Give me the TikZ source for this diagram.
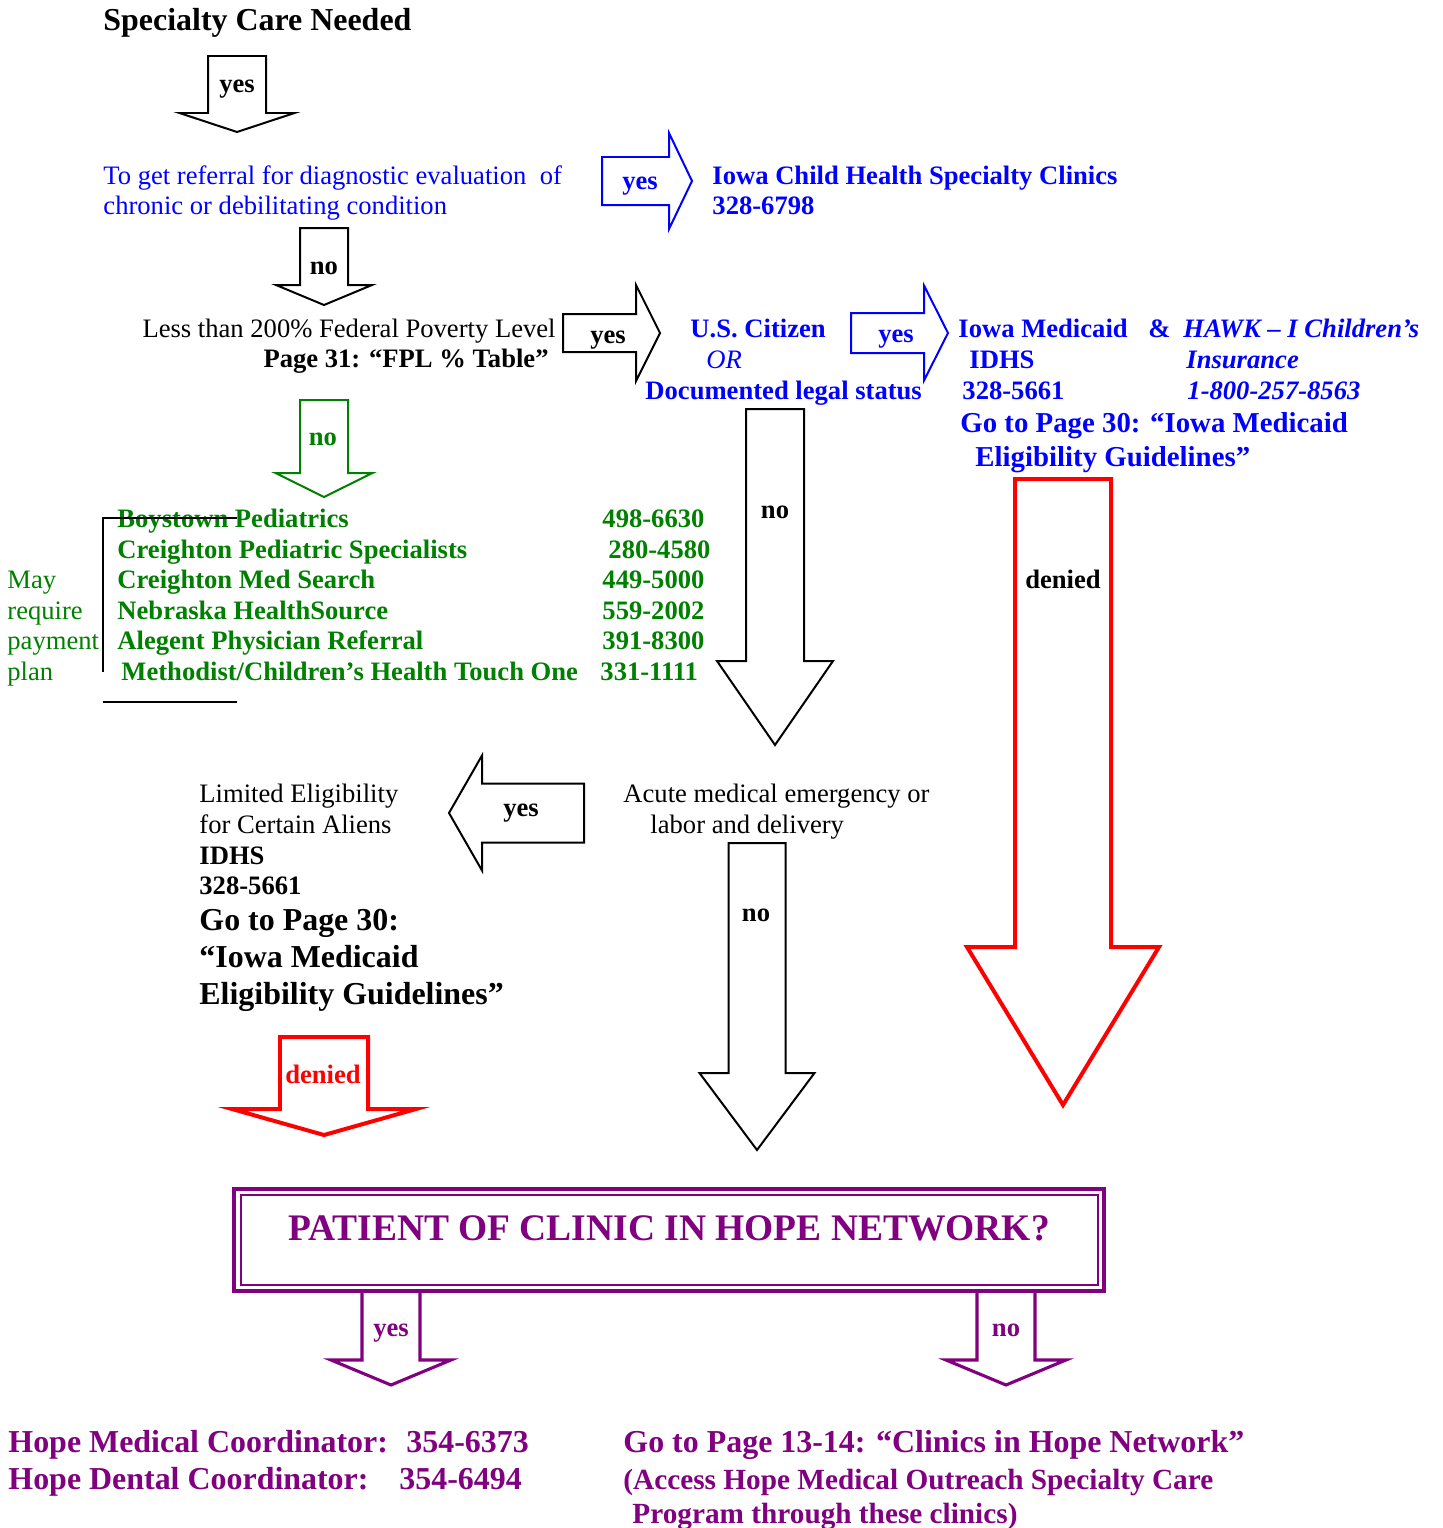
\documentclass[tikz,border=0pt]{standalone}
\usepackage{fontspec}
\setmainfont{Liberation Serif}
\usepackage{tikz}
\usetikzlibrary{positioning}
\definecolor{hopepurple}{RGB}{128,0,128}
\definecolor{clinicgreen}{RGB}{0,128,0}
\tikzstyle{blockarrow}  = [draw=black, line width=0.9pt, fill=white]
\tikzstyle{deniedarrow} = [draw=red, line width=1.8pt, fill=white]
\tikzstyle{hopearrow}   = [draw=hopepurple, line width=1.4pt, fill=white]
% down block arrow: style, centre x, top y, half shaft, head y, half head, tip y
\newcommand{\downblock}[7]{\draw[#1] ({#2-#4},#3) -- ({#2+#4},#3) -- ({#2+#4},#5) -- ({#2+#6},#5) -- (#2,#7) -- ({#2-#6},#5) -- ({#2-#4},#5) -- cycle;}
% sideways block arrow: style, tail x, centre y, half shaft, head x, half head, tip x
\newcommand{\sideblock}[7]{\draw[#1] (#2,{#3-#4}) -- (#5,{#3-#4}) -- (#5,{#3-#6}) -- (#7,#3) -- (#5,{#3+#6}) -- (#5,{#3+#4}) -- (#2,{#3+#4}) -- cycle;}

\begin{document}
\begin{tikzpicture}[x=0.451pt,y=-0.451pt,
    txt/.style={anchor=west,inner sep=0pt,font=\fontsize{12}{14}\selectfont,text height=7.9pt,text depth=0pt},
    btxt/.style={txt,font=\fontsize{12}{14}\selectfont\bfseries},
    itxt/.style={txt,font=\fontsize{12}{14}\selectfont\itshape},
    bitxt/.style={txt,font=\fontsize{12}{14}\selectfont\bfseries\itshape},
    midtxt/.style={txt,font=\fontsize{13}{15}\selectfont\bfseries,text height=8.6pt},
    bigtxt/.style={txt,font=\fontsize{14.4}{16}\selectfont\bfseries,text height=9.5pt},
    lbl/.style={inner sep=0pt,font=\fontsize{12}{14}\selectfont\bfseries,text height=7.9pt,text depth=0pt}]
  \useasboundingbox (0,0) rectangle (1442,1528);

  % start
  \node[bigtxt] (need) at (103,20) {Specialty Care Needed};
  \downblock{blockarrow}{237}{56}{29}{113}{57.5}{132}
  \node[lbl] (yes-a) at (237,84) {yes};

  % referral
  \node[txt,text=blue] (refer1) at (103,176) {To get referral for diagnostic evaluation\ \ of};
  \node[txt,text=blue] (refer2) at (103,206) {chronic or debilitating condition};
  \sideblock{blockarrow,draw=blue}{602}{181}{24}{669}{48}{692}
  \node[lbl,text=blue] (yes-b) at (640,181) {yes};
  \node[btxt,text=blue] (ichsc1) at (712,176) {Iowa Child Health Specialty Clinics};
  \node[btxt,text=blue] (ichsc2) at (712,206) {328-6798};
  \downblock{blockarrow}{324}{228}{24}{285}{48}{305}
  \node[lbl] (no-a) at (324,266) {no};

  % poverty level
  \node[txt,anchor=east] (fpl1) at (556,329) {Less than 200\% Federal Poverty Level};
  \node[btxt,anchor=east] (fpl2) at (549,359) {Page 31: “FPL \% Table”};
  \sideblock{blockarrow}{563}{333}{19}{636}{48}{660}
  \node[lbl] (yes-c) at (608,335) {yes};

  % citizen
  \node[btxt,text=blue] (citizen) at (690,329) {U.S. Citizen};
  \node[itxt,text=blue] (or) at (706,360) {OR};
  \node[btxt,text=blue] (legal) at (645,391) {Documented legal status};
  \sideblock{blockarrow,draw=blue}{851}{333}{20}{924}{47.5}{948}
  \node[lbl,text=blue] (yes-d) at (896,334) {yes};

  % medicaid
  \node[btxt,text=blue] (medicaid) at (958,329) {Iowa Medicaid};
  \node[btxt,text=blue] (amp) at (1148,329) {\&};
  \node[bitxt,text=blue] (hawk1) at (1183,329) {HAWK – I Children’s};
  \node[btxt,text=blue] (idhs-a) at (969,360) {IDHS};
  \node[bitxt,text=blue] (hawk2) at (1186,360) {Insurance};
  \node[btxt,text=blue] (idhsph-a) at (962,391) {328-5661};
  \node[bitxt,text=blue] (hawk3) at (1187,391) {1-800-257-8563};
  \node[midtxt,text=blue] (goto-a1) at (960,423) {Go to Page 30: “Iowa Medicaid};
  \node[midtxt,text=blue] (goto-a2) at (975,457) {Eligibility Guidelines”};

  % clinics
  \downblock{blockarrow,draw=clinicgreen}{324}{400}{24}{473}{48.5}{497}
  \node[lbl,text=clinicgreen] (no-b) at (323,437) {no};
  \foreach \nm/\ph/\xa/\xb [count=\i] in {
      Boystown Pediatrics/498-6630/117/602,
      Creighton Pediatric Specialists/280-4580/117/608,
      Creighton Med Search/449-5000/117/602,
      Nebraska HealthSource/559-2002/117/602,
      Alegent Physician Referral/391-8300/117/602,
      {Methodist/Children’s Health Touch One}/331-1111/121/600}{
    \node[btxt,text=clinicgreen] (clinic\i) at (\xa,{488.5+30.5*\i}) {\nm};
    \node[btxt,text=clinicgreen] (phone\i) at (\xb,{488.5+30.5*\i}) {\ph};
  }
  \foreach \w [count=\i] in {May,require,payment,plan}
    \node[txt,text=clinicgreen] (pay\i) at (7,{549.5+30.5*\i}) {\w};
  \draw[line width=0.6pt] (237,518) -- (103,518) -- (103,672);
  \draw[line width=0.6pt] (103,702) -- (237,702);

  % not citizen
  \downblock{blockarrow}{775}{409}{29}{661}{58}{745}
  \node[lbl] (no-c) at (775,510) {no};
  \downblock{deniedarrow}{1063}{479}{48}{947}{96}{1105}
  \node[lbl] (denied-a) at (1063,580) {denied};

  % emergency
  \node[txt] (acute1) at (623,794) {Acute medical emergency or};
  \node[txt] (acute2) at (650,825) {labor and delivery};
  \sideblock{blockarrow}{584}{813}{29.5}{482}{57.5}{449}
  \node[lbl] (yes-e) at (521,808) {yes};
  \node[txt] (alien1) at (199,794) {Limited Eligibility};
  \node[txt] (alien2) at (199,825) {for Certain Aliens};
  \node[btxt] (idhs-b) at (199,856) {IDHS};
  \node[btxt] (idhsph-b) at (199,886) {328-5661};
  \node[bigtxt] (goto-b1) at (199,920) {Go to Page 30:};
  \node[bigtxt] (goto-b2) at (199,957) {“Iowa Medicaid};
  \node[bigtxt] (goto-b3) at (199,994) {Eligibility Guidelines”};
  \downblock{deniedarrow}{324}{1037}{44}{1109}{92}{1135}
  \node[lbl,text=red] (denied-b) at (323,1075) {denied};
  \downblock{blockarrow}{757}{843}{28.5}{1073}{57.5}{1150}
  \node[lbl] (no-d) at (756,913) {no};

  % hope network
  \downblock{hopearrow}{391}{1289}{29}{1360}{60}{1385}
  \downblock{hopearrow}{1006}{1289}{29}{1360}{60}{1385}
  \draw[hopepurple,line width=1.4pt,fill=white] (234,1189) rectangle (1104,1291);
  \draw[hopepurple,line width=0.7pt] (241,1195) rectangle (1098,1285);
  \node[lbl,font=\fontsize{16.9}{19}\selectfont\bfseries,text height=11.2pt,text=hopepurple] (hopeq) at (669,1228) {PATIENT OF CLINIC IN HOPE NETWORK?};
  \node[lbl,text=hopepurple] (yes-f) at (391,1328) {yes};
  \node[lbl,text=hopepurple] (no-e) at (1006,1328) {no};
  \node[bigtxt,text=hopepurple] (coord1) at (8,1442) {Hope Medical Coordinator:};
  \node[bigtxt,text=hopepurple] (coordph1) at (406,1442) {354-6373};
  \node[bigtxt,text=hopepurple] (coord2) at (8,1479) {Hope Dental Coordinator:};
  \node[bigtxt,text=hopepurple] (coordph2) at (399,1479) {354-6494};
  \node[bigtxt,text=hopepurple] (clinics1) at (623,1442) {Go to Page 13-14: “Clinics in Hope Network”};
  \node[bigtxt,font=\fontsize{13.2}{15}\selectfont\bfseries,text=hopepurple] (clinics2) at (623,1479) {(Access Hope Medical Outreach Specialty Care};
  \node[bigtxt,font=\fontsize{13.2}{15}\selectfont\bfseries,text=hopepurple] (clinics3) at (632,1513) {Program through these clinics)};
\end{tikzpicture}
\end{document}
